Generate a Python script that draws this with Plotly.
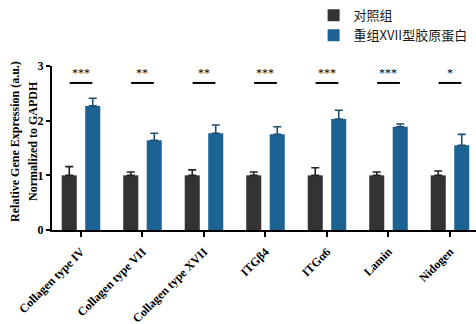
import plotly.graph_objects as go

# Gene expression data (relative to control, normalized to GAPDH)
categories = ["Collagen type IV", "Collagen type VII", "Collagen type XVII",
              "ITGβ4", "ITGα6", "Lamin", "Nidogen"]
control_mean = [1.0, 1.0, 1.0, 1.0, 1.0, 1.0, 1.0]
control_err = [0.16, 0.06, 0.10, 0.06, 0.14, 0.06, 0.08]
treated_mean = [2.27, 1.64, 1.77, 1.75, 2.03, 1.89, 1.55]
treated_err = [0.14, 0.13, 0.15, 0.14, 0.16, 0.05, 0.20]
significance = ["***", "**", "**", "***", "***", "***", "*"]
series_names = ["对照组", "重组XVII型胶原蛋白"]
y_title_lines = ["Relative Gene Expression (a.u.)", "Normalized to GAPDH"]
y_ticks = [0, 1, 2, 3]

DARK = "#333333"
BLUE = "#1c6393"
SERIF = "Liberation Serif, Times New Roman, serif"
CJK = "Noto Sans CJK SC, sans-serif"

W, H = 476, 324
M = dict(l=52, r=0, t=66, b=94)

fig = go.Figure()
for name, mean, err, color, ecolor in [
    (series_names[0], control_mean, control_err, DARK, "#222222"),
    (series_names[1], treated_mean, treated_err, BLUE, "#1e4f6e"),
]:
    fig.add_trace(go.Bar(
        x=categories, y=mean, name=name,
        marker=dict(color=color, line=dict(width=0)),
        error_y=dict(type="data", array=err, arrayminus=[0] * len(err),
                     symmetric=False, color=ecolor, thickness=1.6, width=4),
    ))

# Significance brackets and stars
bracket_y = 2.69
half = 0.185
for i, label in enumerate(significance):
    fig.add_shape(type="line", xref="x", yref="y",
                  x0=i - half, x1=i + half, y0=bracket_y, y1=bracket_y,
                  line=dict(color="black", width=2))
    fig.add_annotation(x=i, y=bracket_y, xref="x", yref="y", text=label,
                       showarrow=False, yanchor="bottom", yshift=1,
                       font=dict(family=SERIF, size=12, color="black"))

# Two-line rotated y-axis title
plot_w = W - M["l"] - M["r"]
for xpx, line in zip([15.5, 33.5], y_title_lines):
    fig.add_annotation(x=(xpx - M["l"]) / plot_w, y=0.54, xref="paper", yref="paper",
                       text=line, textangle=-90, showarrow=False,
                       xanchor="center", yanchor="middle",
                       font=dict(family=SERIF, size=12, color="black", weight="bold"))

fig.update_layout(
    width=W, height=H,
    margin=dict(M, autoexpand=False),
    paper_bgcolor="white", plot_bgcolor="white",
    barmode="group", bargap=0.236, bargroupgap=0.36,
    legend=dict(x=0.617, y=1.40, xanchor="left", yanchor="top",
                font=dict(family=CJK, size=13, color="#1a1a1a"),
                itemwidth=30, tracegroupgap=0, bgcolor="rgba(0,0,0,0)"),
    showlegend=True,
)
fig.update_xaxes(
    range=[-0.4715, 6.423], showline=True, linecolor="black", linewidth=2,
    ticks="outside", ticklen=5, tickwidth=2, tickcolor="black",
    tickangle=-45, showgrid=False, zeroline=False, ticklabelstandoff=3,
    automargin=False,
    tickfont=dict(family=SERIF, size=12, color="black", weight="bold"),
)
fig.update_yaxes(
    range=[0, 3], tickvals=y_ticks, showline=True, linecolor="black", linewidth=2,
    ticks="outside", ticklen=4, tickwidth=2, tickcolor="black",
    showgrid=False, zeroline=False, automargin=False,
    tickfont=dict(family=SERIF, size=12, color="black", weight="bold"),
)

fig.write_html("out.html")
